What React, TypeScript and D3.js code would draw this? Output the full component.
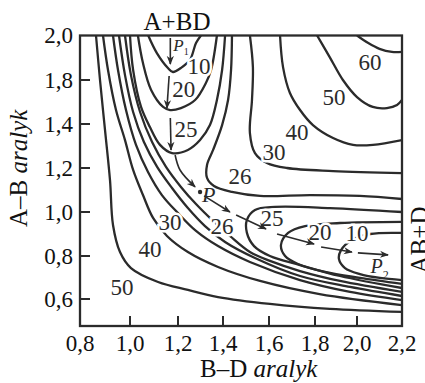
import React from "react";
import * as d3 from "d3";

const W = 425;
const H = 383;

// axis ticks (values as printed on the picture)
const xTicks = [0.8, 1.0, 1.2, 1.4, 1.6, 1.8, 2.0, 2.2];
const xTickLabels = ["0,8", "1,0", "1,2", "1,4", "1,6", "1,8", "2,0", "2,2"];
const yTicks = [0.6, 0.8, 1.0, 1.2, 1.4, 1.8, 2.0];
const yTickLabels = ["0,6", "0,8", "1,0", "1,2", "1,4", "1,8", "2,0"];
const yBottom = 0.475;

// contour lines [B–D, A–B]
const c60 = [[2.0, 2.0], [2.05, 1.966], [2.1, 1.94], [2.155, 1.926], [2.2, 1.926]];
const c50u = [[1.81, 2.0], [1.87, 1.903], [1.933, 1.8], [2.0, 1.645], [2.07, 1.555], [2.133, 1.545], [2.178, 1.573], [2.2, 1.618]];
const c40u = [[1.648, 2.0], [1.661, 1.858], [1.691, 1.682], [1.735, 1.527], [1.791, 1.395], [1.886, 1.336], [1.981, 1.305], [2.071, 1.305], [2.2, 1.327]];
const c30u = [[1.517, 2.0], [1.53, 1.858], [1.526, 1.618], [1.517, 1.359], [1.539, 1.268], [1.591, 1.223], [1.678, 1.2], [1.886, 1.186], [2.2, 1.177]];
const c26u = [[1.439, 2.0], [1.435, 1.845], [1.422, 1.618], [1.396, 1.395], [1.356, 1.282], [1.329, 1.214], [1.329, 1.155], [1.36, 1.118], [1.439, 1.091], [1.561, 1.073], [1.778, 1.077], [2.013, 1.073], [2.2, 1.059]];
const c25u = [[1.0, 2.0], [1.013, 1.845], [1.046, 1.555], [1.083, 1.386], [1.125, 1.305], [1.175, 1.268], [1.244, 1.282], [1.298, 1.327], [1.342, 1.395], [1.373, 1.618], [1.396, 1.845], [1.409, 2.0]];
const c20u = [[1.033, 2.0], [1.054, 1.876], [1.088, 1.709], [1.138, 1.555], [1.167, 1.527], [1.213, 1.545], [1.276, 1.618], [1.324, 1.773], [1.347, 1.845], [1.373, 2.0]];
const c10u = [[1.076, 2.0], [1.112, 1.921], [1.158, 1.854], [1.179, 1.836], [1.213, 1.854], [1.253, 1.89], [1.28, 1.966], [1.302, 2.0]];
const c10l = [[2.2, 0.905], [2.058, 0.9], [1.976, 0.873], [1.924, 0.827], [1.914, 0.786], [1.943, 0.744], [2.013, 0.716], [2.102, 0.698], [2.2, 0.688]];
const c20l = [[2.2, 0.955], [1.919, 0.95], [1.757, 0.936], [1.683, 0.905], [1.652, 0.85], [1.67, 0.8], [1.726, 0.763], [1.848, 0.726], [2.013, 0.698], [2.2, 0.67]];
const c25l = [[2.2, 1.0], [1.871, 1.018], [1.626, 1.023], [1.539, 1.009], [1.504, 0.964], [1.504, 0.905], [1.535, 0.845], [1.604, 0.8], [1.735, 0.758], [1.919, 0.707], [2.2, 0.651]];
const c26l = [[0.98, 2.0], [1.004, 1.822], [1.042, 1.509], [1.092, 1.318], [1.15, 1.205], [1.213, 1.114], [1.28, 1.036], [1.351, 0.964], [1.43, 0.891], [1.517, 0.818], [1.604, 0.777], [1.735, 0.73], [1.919, 0.684], [2.2, 0.633]];
const c28 = [[0.956, 2.0], [0.98, 1.822], [1.013, 1.509], [1.058, 1.318], [1.113, 1.205], [1.175, 1.109], [1.244, 1.018], [1.32, 0.936], [1.409, 0.864], [1.539, 0.791], [1.735, 0.707], [1.967, 0.656], [2.2, 0.614]];
const c30l = [[0.932, 2.0], [0.952, 1.845], [0.984, 1.527], [1.025, 1.305], [1.075, 1.182], [1.133, 1.077], [1.2, 0.995], [1.28, 0.914], [1.378, 0.845], [1.517, 0.772], [1.735, 0.688], [1.967, 0.633], [2.2, 0.595]];
const c40l = [[0.892, 2.0], [0.912, 1.845], [0.944, 1.527], [0.98, 1.327], [1.013, 1.191], [1.054, 1.077], [1.096, 0.973], [1.154, 0.891], [1.244, 0.818], [1.378, 0.749], [1.561, 0.684], [1.822, 0.623], [2.2, 0.572]];
const c50l = [[0.864, 2.0], [0.88, 1.8], [0.9, 1.373], [0.92, 1.145], [0.932, 0.941], [0.96, 0.818], [1.004, 0.744], [1.117, 0.679], [1.244, 0.642], [1.378, 0.609], [1.604, 0.577], [1.871, 0.554], [2.2, 0.54]];

const contours = [c60, c50u, c40u, c30u, c26u, c25u, c20u, c10u, c10l, c20l, c25l, c26l, c28, c30l, c40l, c50l];

// contour labels
const labelTexts = ["60", "50", "40", "30", "26", "25", "20", "10", "30", "40", "50", "26", "25", "20", "10"];
const labelPos = [[2.058, 1.881], [1.89, 1.645], [1.722, 1.364], [1.622, 1.273], [1.474, 1.164], [1.236, 1.377], [1.225, 1.72], [1.293, 1.862], [1.167, 0.955], [1.083, 0.832], [0.968, 0.656], [1.396, 0.936], [1.613, 0.973], [1.824, 0.909], [2.0, 0.905]];

// reaction path segments (arrows)
const pathSegments = [
  [[1.168, 1.989], [1.168, 1.872]],
  [[1.163, 1.818], [1.154, 1.545]],
  [[1.168, 1.455], [1.171, 1.282]],
  [[1.188, 1.259], [1.209, 1.191], [1.276, 1.114]],
  [[1.316, 1.073], [1.43, 1.0]],
  [[1.457, 0.986], [1.587, 0.923]],
  [[1.635, 0.9], [1.796, 0.855]],
  [[1.829, 0.841], [1.976, 0.818]],
  [[2.004, 0.814], [2.138, 0.805]],
];
const saddlePoint = [1.298, 1.091];

const FONT = "'Liberation Serif', 'Times New Roman', serif";
const INK = "#2b2b2b";

export default function App() {
  const x = d3.scaleLinear().domain(xTicks).range([80, 130, 178, 223, 269, 315, 357, 402]);
  const y = d3.scaleLinear().domain([yBottom, ...yTicks]).range([326, 299, 256, 212, 168, 124, 80, 35.5]);
  const line = d3
    .line<number[]>()
    .x((d) => x(d[0]))
    .y((d) => y(d[1]))
    .curve(d3.curveCatmullRom.alpha(0.5));

  const x0 = x(0.8), x1 = x(2.2), yT = y(2.0), yB = y(yBottom);

  return (
    <svg width={W} height={H} style={{ display: "block", position: "absolute", left: 0, top: 0 }} fontFamily={FONT}>
      <defs>
        <marker id="ah" viewBox="0 0 10 10" refX="9" refY="5" markerWidth="9" markerHeight="9" orient="auto" markerUnits="userSpaceOnUse">
          <path d="M0,1 L10,5 L0,9 L3,5 Z" fill={INK} />
        </marker>
        <clipPath id="clip">
          <rect x={x0} y={yT} width={x1 - x0} height={yB - yT} />
        </clipPath>
      </defs>
      <rect x={0} y={0} width={W} height={H} fill="#fff" />
      <g clipPath="url(#clip)">
        {contours.map((c, i) => (
          <path key={i} d={line(c) || ""} fill="none" stroke={INK} strokeWidth={2.3} />
        ))}
        {labelTexts.map((t, i) => (
          <text
            key={"l" + i}
            x={x(labelPos[i][0])}
            y={y(labelPos[i][1])}
            dy="0.34em"
            textAnchor="middle"
            fontSize={23}
            fill={INK}
            stroke="#fff"
            strokeWidth={5}
            style={{ paintOrder: "stroke" }}
          >
            {t}
          </text>
        ))}
        {pathSegments.map((s, i) => (
          <path key={"p" + i} d={line(s) || ""} fill="none" stroke={INK} strokeWidth={1.6} markerEnd="url(#ah)" />
        ))}
        <circle cx={x(saddlePoint[0])} cy={y(saddlePoint[1])} r={2.2} fill={INK} />
      </g>
      {/* P labels */}
      <text x={x(saddlePoint[0]) + 2} y={y(saddlePoint[1]) + 10} fontSize={22} fontStyle="italic" fill={INK}>P</text>
      <text x={x(1.168) + 3} y={y(1.93)} fontSize={17} fontStyle="italic" fill={INK}>
        P<tspan fontSize={10} fontStyle="normal" dy="4">1</tspan>
      </text>
      <text x={x(2.06)} y={y(0.72)} fontSize={20} fontStyle="italic" fill={INK}>
        P<tspan fontSize={12} fontStyle="normal" dy="6">2</tspan>
      </text>

      {/* frame */}
      <rect x={x0} y={yT} width={x1 - x0} height={yB - yT} fill="none" stroke={INK} strokeWidth={2.3} />
      {/* ticks */}
      {yTicks.slice(0, -1).map((v, i) => (
        <line key={"yt" + i} x1={x0} x2={x0 + 10} y1={y(v)} y2={y(v)} stroke={INK} strokeWidth={2} />
      ))}
      {xTicks.slice(1, -1).map((v, i) => (
        <line key={"xt" + i} x1={x(v)} x2={x(v)} y1={yB} y2={yB - 10} stroke={INK} strokeWidth={2} />
      ))}
      {yTicks.map((v, i) => (
        <text key={"yl" + i} x={x0 - 7} y={y(v)} dy="0.34em" textAnchor="end" fontSize={23} fill="#111">
          {yTickLabels[i]}
        </text>
      ))}
      {xTicks.map((v, i) => (
        <text key={"xl" + i} x={x(v)} y={yB + 25} textAnchor="middle" fontSize={23} fill="#111">
          {xTickLabels[i]}
        </text>
      ))}
      {/* titles */}
      <text x={200} y={377} textAnchor="start" fontSize={25} fill="#111">
        B–D <tspan fontStyle="italic">aralyk</tspan>
      </text>
      <text transform="translate(27,227) rotate(-90)" textAnchor="start" fontSize={25} fill="#111">
        A–B <tspan fontStyle="italic">aralyk</tspan>
      </text>
      <text x={177} y={30} textAnchor="middle" fontSize={25} fill="#111">A+BD</text>
      <text transform="translate(428,240) rotate(-90)" textAnchor="middle" fontSize={25} fill="#111">AB+D</text>
    </svg>
  );
}
